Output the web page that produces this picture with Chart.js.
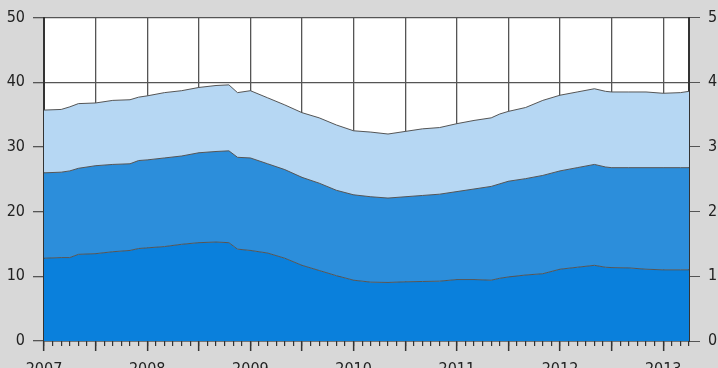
<!DOCTYPE html>
<html>
<head>
<meta charset="utf-8">
<script src="https://cdn.jsdelivr.net/npm/chart.js@4/dist/chart.umd.min.js"></script>
<style>
  html, body { margin: 0; padding: 0; width: 718px; height: 368px; overflow: hidden; background: #d8d8d8; }
  canvas { display: block; }
</style>
</head>
<body>
<canvas id="c" width="718" height="385"></canvas>
<script>
// Months since January 2007
const months = [0,2,3,4,6,8,10,11,12,14,16,18,20,21.5,22.5,24,26,28,30,32,34,36,38,40,42,44,46,48,50,52,53,54,56,58,60,62,64,65.3,66,68,70,72,74,75];
// Bottom layer (dark blue)
const seriesA = [12.8,12.9,12.9,13.4,13.5,13.8,14.0,14.3,14.4,14.6,14.95,15.2,15.3,15.2,14.2,14.0,13.6,12.8,11.7,10.9,10.1,9.4,9.1,9.05,9.15,9.2,9.25,9.5,9.5,9.4,9.7,9.9,10.2,10.4,11.1,11.4,11.7,11.4,11.35,11.3,11.1,11.0,11.0,11.0];
// Middle layer (medium blue)
const seriesB = [13.2,13.2,13.4,13.3,13.6,13.5,13.4,13.6,13.6,13.7,13.65,13.9,14.0,14.2,14.2,14.3,13.8,13.7,13.6,13.5,13.2,13.2,13.2,13.05,13.15,13.3,13.45,13.6,14.0,14.5,14.6,14.8,14.9,15.2,15.2,15.4,15.6,15.5,15.45,15.5,15.7,15.8,15.8,15.8];
// Top layer (light blue)
const seriesC = [9.7,9.7,9.9,10.0,9.7,9.9,9.9,9.8,9.9,10.1,10.1,10.1,10.2,10.2,10.0,10.4,10.2,10.0,10.0,10.1,10.1,9.9,10.0,9.9,10.1,10.3,10.3,10.5,10.6,10.6,10.8,10.8,11.0,11.6,11.7,11.7,11.7,11.7,11.7,11.7,11.7,11.5,11.6,11.8];
const startYear = 2007;
const yTicks = [0,10,20,30,40,50];

const FONT = "'Liberation Sans Narrow', 'DejaVu Sans Condensed', 'Arial Narrow', sans-serif";
const toXY = arr => arr.map((v, i) => ({ x: months[i], y: v }));

const plotBg = {
  id: 'plotBg',
  beforeDraw(chart) {
    const a = chart.chartArea, ctx = chart.ctx;
    ctx.save();
    ctx.fillStyle = '#ffffff';
    ctx.fillRect(a.left, a.top, a.right - a.left, a.bottom - a.top);
    ctx.restore();
  }
};

const lineCol = '#555555';
new Chart(document.getElementById('c'), {
  type: 'line',
  data: {
    datasets: [
      { data: toXY(seriesA), backgroundColor: '#0a80dc', borderColor: lineCol, borderWidth: 1, fill: 'origin', pointRadius: 0, tension: 0 },
      { data: toXY(seriesB), backgroundColor: '#2c8edb', borderColor: lineCol, borderWidth: 1, fill: '-1', pointRadius: 0, tension: 0 },
      { data: toXY(seriesC), backgroundColor: '#b6d7f3', borderColor: lineCol, borderWidth: 1, fill: '-1', pointRadius: 0, tension: 0 }
    ]
  },
  options: {
    responsive: false,
    animation: false,
    devicePixelRatio: 1,
    layout: { padding: { top: 14, left: 0, right: 0, bottom: 0 } },
    plugins: { legend: { display: false }, tooltip: { enabled: false } },
    scales: {
      xMinor: {
        type: 'linear', position: 'bottom', min: 0, max: 75, weight: 0,
        afterFit: s => { s.height = 0; },
        ticks: { display: false, stepSize: 1, autoSkip: false, includeBounds: false },
        grid: { drawOnChartArea: false, drawTicks: true, tickLength: 5, tickColor: '#333', tickWidth: 1.2, lineWidth: 1.2 },
        border: { display: false }
      },
      x: {
        type: 'linear', position: 'bottom', min: 0, max: 75, weight: 1,
        afterFit: s => { s.height = 44; },
        ticks: {
          stepSize: 6, autoSkip: false, includeBounds: false, maxRotation: 0,
          padding: 9, color: '#222', font: { family: FONT, size: 16 },
          callback: v => (v % 12 === 0 ? String(startYear + v / 12) : '')
        },
        grid: { color: '#555', lineWidth: 1.3, drawTicks: true, tickLength: 10, tickColor: '#333', tickWidth: 1.5 },
        border: { display: true, color: '#333', width: 1.5 }
      },
      y: {
        type: 'linear', position: 'left', min: 0, max: 50, stacked: true,
        afterFit: s => { s.width = 44; },
        afterBuildTicks: s => { s.ticks = yTicks.map(v => ({ value: v })); },
        ticks: { padding: 8, color: '#222', font: { family: FONT, size: 16 } },
        grid: { color: '#555', lineWidth: 1.3, tickLength: 11, tickColor: '#555' },
        border: { display: true, color: '#333', width: 2 }
      },
      y2: {
        type: 'linear', position: 'right', min: 0, max: 50,
        afterFit: s => { s.width = 29; },
        afterBuildTicks: s => { s.ticks = yTicks.map(v => ({ value: v })); },
        ticks: { padding: 8, color: '#222', font: { family: FONT, size: 16 } },
        grid: { drawOnChartArea: false, tickLength: 11, tickColor: '#555' },
        border: { display: true, color: '#333', width: 2 }
      }
    }
  },
  plugins: [plotBg]
});
</script>
</body>
</html>
